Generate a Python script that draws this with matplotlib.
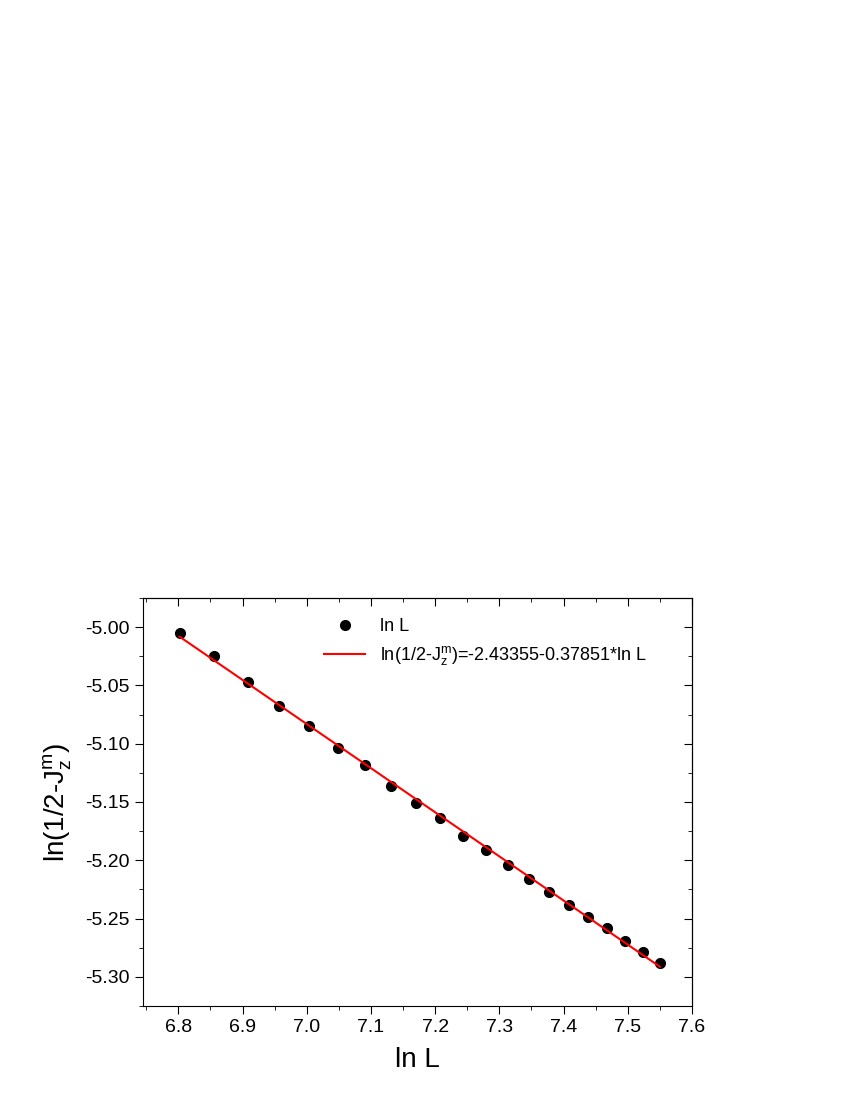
import matplotlib
matplotlib.use("Agg")
import matplotlib.pyplot as plt
from matplotlib.ticker import MultipleLocator
import numpy as np

plt.rcParams['font.family'] = ['Liberation Sans', 'DejaVu Sans']
plt.rcParams['mathtext.fontset'] = 'custom'
plt.rcParams['mathtext.rm'] = 'Liberation Sans'
plt.rcParams['mathtext.it'] = 'Liberation Sans'

lnL = [6.802, 6.856, 6.908, 6.957, 7.003, 7.048, 7.090, 7.131, 7.170, 7.208,
       7.244, 7.279, 7.313, 7.346, 7.378, 7.409, 7.438, 7.467, 7.496, 7.523, 7.550]
lnJ = [-5.005, -5.025, -5.047, -5.068, -5.085, -5.104, -5.118, -5.136, -5.151, -5.164,
       -5.179, -5.191, -5.204, -5.216, -5.227, -5.238, -5.249, -5.258, -5.269, -5.279, -5.288]
intercept = -2.43355
slope = -0.37851

fig = plt.figure(figsize=(8.5, 11), dpi=100)
ax = fig.add_axes([143/850, 1-1006/1100, (692-143)/850, (1006-598)/1100])

ax.plot(lnL, lnJ, 'o', color='black', markersize=7, label='ln L')
xf = np.array([lnL[0], lnL[-1]])
ax.plot(xf, intercept + slope*xf, color='red', lw=1.5,
        label=r'ln(1/2-J$_\mathrm{z}^\mathrm{m}$)=-2.43355-0.37851*ln L')

ax.set_xlim(6.745, 7.6)
ax.set_ylim(-5.325, -4.975)
ax.xaxis.set_major_locator(MultipleLocator(0.1))
ax.xaxis.set_minor_locator(MultipleLocator(0.05))
ax.yaxis.set_major_locator(MultipleLocator(0.05))
ax.yaxis.set_minor_locator(MultipleLocator(0.025))
ax.xaxis.set_major_formatter(matplotlib.ticker.FormatStrFormatter('%.1f'))
ax.yaxis.set_major_formatter(matplotlib.ticker.FormatStrFormatter('%.2f'))
ax.tick_params(which='both', direction='out', top=False, right=False, labelsize=14)
ax.tick_params(which='major', length=6)
ax.tick_params(which='minor', length=3)
for side in ['top', 'right']:
    pass
sec_x = ax.secondary_xaxis('top')
sec_x.xaxis.set_major_locator(MultipleLocator(0.1))
sec_x.xaxis.set_minor_locator(MultipleLocator(0.05))
sec_x.tick_params(which='both', direction='in', labeltop=False)
sec_x.tick_params(which='major', length=6); sec_x.tick_params(which='minor', length=3)
sec_y = ax.secondary_yaxis('right')
sec_y.yaxis.set_major_locator(MultipleLocator(0.05))
sec_y.yaxis.set_minor_locator(MultipleLocator(0.025))
sec_y.tick_params(which='both', direction='in', labelright=False)
sec_y.tick_params(which='major', length=6); sec_y.tick_params(which='minor', length=3)

ax.set_xlabel('ln L', fontsize=20, labelpad=8)
ax.set_ylabel(r'ln(1/2-J$_\mathrm{z}^\mathrm{m}$)', fontsize=20, labelpad=8)
ax.legend(loc='upper left', bbox_to_anchor=(0.3, 0.99), frameon=False, fontsize=13,
          handlelength=2.3, labelspacing=0.5)

fig.savefig('out.png', dpi=100)
